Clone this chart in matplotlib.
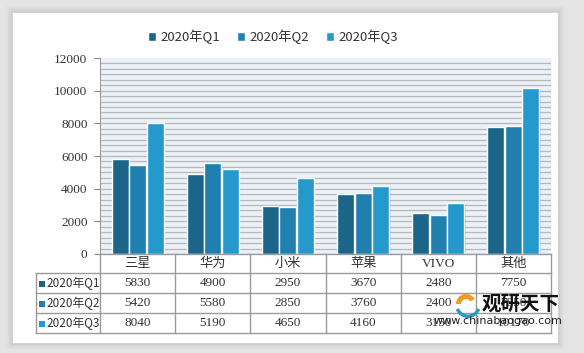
""" Smartphone shipments by brand, 2020 Q1-Q3, bar chart with data table """

import numpy as np
import matplotlib
matplotlib.use("Agg")
from matplotlib import pyplot as plt
from matplotlib.patches import Rectangle, Wedge

plt.rcParams['font.family'] = ['Liberation Serif', 'Noto Sans CJK SC', 'DejaVu Sans']

# data
brands = ["三星", "华为", "小米", "苹果", "VIVO", "其他"]
series_names = ["2020年Q1", "2020年Q2", "2020年Q3"]
q1 = [5830, 4900, 2950, 3670, 2480, 7750]
q2 = [5420, 5580, 2850, 3760, 2400, 7850]
q3 = [8040, 5190, 4650, 4160, 3150, 10170]
colors = ["#1B6589", "#1F80B0", "#2499CC"]
yticks = [0, 2000, 4000, 6000, 8000, 10000, 12000]

W, H = 584, 353
fig = plt.figure(figsize=(W / 100, H / 100), dpi=100)
fig.patch.set_facecolor("#E4E4E4")

def fx(px):
	return px / W

def fy(py):
	return 1 - py / H

# panel with soft shadow
for i, a in enumerate([0.05, 0.07, 0.09, 0.12]):
	d = 6 - i * 1.5
	fig.patches.append(Rectangle((fx(12 - d), fy(343 + d)), fx(546 + 2 * d), (331 + 2 * d) / H,
		transform=fig.transFigure, facecolor="#9A9A9A", alpha=a, edgecolor="none", zorder=-3))
fig.patches.append(Rectangle((fx(12), fy(343)), fx(546), 331 / H,
	transform=fig.transFigure, facecolor="white", edgecolor="#D0D0D0", lw=0.6, zorder=-2))
# legend shadow
fig.patches.append(Rectangle((fx(163), fy(50)), fx(222), 25 / H, transform=fig.transFigure,
	facecolor="#888888", alpha=0.12, edgecolor="none", zorder=-1))

# main axes
x0, x1, ytop, ybot = 100, 551, 58, 254
ax = fig.add_axes([fx(x0), fy(ybot), fx(x1 - x0), (ybot - ytop) / H])
ax.set_facecolor("#EAF1F8")
ax.set_xlim(-0.5, len(brands) - 0.5)
ax.set_ylim(0, 12000)

# striped background
for yv in np.arange(0, 12000, 2000 / 6.0):
	ax.axhline(yv, color="#B8B8B8", lw=0.9, zorder=1)

x = np.arange(len(brands))
bw = 0.225
step = 0.233
for k, vals in enumerate([q1, q2, q3]):
	ax.bar(x + (k - 1) * step, vals, bw, color=colors[k], edgecolor="white", lw=1.0,
		zorder=3, label=series_names[k])
	ax.bar(x + (k - 1) * step + 0.02, vals, bw, bottom=-60, color="#000000", alpha=0.12,
		lw=0, zorder=2)

ax.set_yticks(yticks)
ax.set_yticklabels([str(v) for v in yticks], fontsize=9.5, color="#333333")
ax.tick_params(axis="y", length=4, color="#888888", pad=5)
ax.set_xticks([])
for s in ["top", "right", "bottom"]:
	ax.spines[s].set_visible(False)
ax.spines["left"].set_color("#999999")

# legend
leg = fig.legend(loc="center", bbox_to_anchor=(fx(273), fy(37)), ncol=3, frameon=True,
	handlelength=0.6, handleheight=0.6, handletextpad=0.35, columnspacing=1.3,
	borderpad=0.5, prop={'family': ['Noto Sans CJK SC'], 'size': 9.5})
leg.get_frame().set_edgecolor("none")
leg.get_frame().set_facecolor("white")
leg.get_frame().set_alpha(1)
for t in leg.get_texts():
	t.set_color("#333333")

# data table
tab = fig.add_axes([0, 0, 1, 1], facecolor="none")
tab.set_xlim(0, W)
tab.set_ylim(H, 0)
tab.axis("off")
lc = "#9A9A9A"
col_x = np.linspace(x0, x1, len(brands) + 1)
row_y = [254, 273, 293, 313, 333]
# vertical lines
for cx in col_x:
	tab.plot([cx, cx], [row_y[0], row_y[-1]], color=lc, lw=1.0)
tab.plot([36, 36], [row_y[1], row_y[-1]], color=lc, lw=1.0)
# horizontal lines
tab.plot([x0, x1], [row_y[0], row_y[0]], color=lc, lw=1.0)
for ry in row_y[1:]:
	tab.plot([36, x1], [ry, ry], color=lc, lw=1.0)
# category headers
for i, b in enumerate(brands):
	tab.text((col_x[i] + col_x[i + 1]) / 2, (row_y[0] + row_y[1]) / 2 + 0.5, b,
		ha="center", va="center", fontsize=9.5, color="#333333")
# rows
for r, vals in enumerate([q1, q2, q3]):
	yc = (row_y[r + 1] + row_y[r + 2]) / 2 + 0.5
	tab.add_patch(Rectangle((39, yc - 3), 6, 6, facecolor=colors[r], edgecolor="none"))
	tab.text(46, yc, series_names[r], ha="left", va="center", fontsize=8.5, color="#333333",
		family=['Noto Sans CJK SC'])
	for i, v in enumerate(vals):
		tab.text((col_x[i] + col_x[i + 1]) / 2, yc, str(v), ha="center", va="center",
			fontsize=9.5, color="#333333")

# watermark
tab.add_patch(Wedge((468, 305), 13, 20, 160, width=3.5, facecolor="#2A9BC7", edgecolor="none",
	zorder=6))
tab.add_patch(Wedge((466, 304), 10, 180, 330, width=5, facecolor="#F29A1E", edgecolor="none",
	zorder=6))
tab.text(521, 304, "观研天下", ha="center", va="center", fontsize=14, fontweight="bold",
	color="#111111", family=['Noto Sans CJK SC'], zorder=6)
tab.text(498, 321, "www.chinabaogao.com", ha="center", va="center", fontsize=8,
	color="#222222", family=['DejaVu Sans'], zorder=6)

fig.savefig("out.png", dpi=100)
